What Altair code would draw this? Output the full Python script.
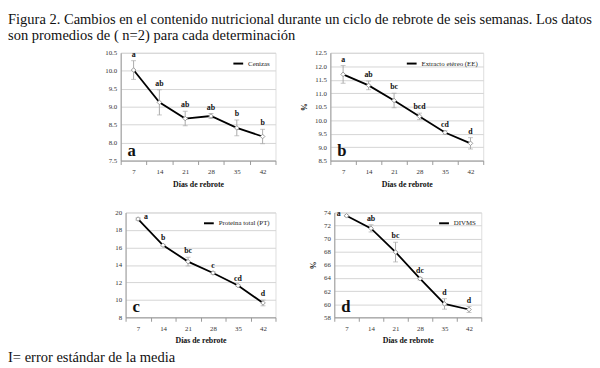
import altair as alt
import pandas as pd

SERIF = "Liberation Serif"

dias = [7, 14, 21, 28, 35, 42]

# Panel a: Cenizas
ceniza_val = [10.02, 9.12, 8.67, 8.74, 8.41, 8.17]
ceniza_se = [0.26, 0.35, 0.2, 0.07, 0.22, 0.2]
ceniza_let = ["a", "ab", "ab", "ab", "b", "b"]

# Panel b: Extracto etéreo
ee_val = [11.7, 11.29, 10.73, 10.14, 9.54, 9.14]
ee_se = [0.33, 0.16, 0.27, 0.12, 0.07, 0.21]
ee_let = ["a", "ab", "bc", "bcd", "cd", "d"]

# Panel c: Proteína total
pt_val = [19.25, 16.25, 14.38, 13.08, 11.64, 9.65]
pt_se = [0.15, 0.1, 0.5, 0.15, 0.1, 0.33]
pt_let = ["a", "b", "bc", "c", "cd", "d"]

# Panel d: DIVMS
dv_val = [73.5, 71.58, 67.96, 63.9, 60.05, 59.2]
dv_se = [0.1, 0.55, 1.5, 0.2, 0.8, 0.45]
dv_let = ["a", "ab", "bc", "dc", "d", "d"]


def panel(vals, se, letras, serie, ydom, yvals, yfmt, w, h, ytitle,
          plabel, first_dx=0, first_mid=False):
    df = pd.DataFrame({
        "dia": dias, "val": vals,
        "lo": [v - s for v, s in zip(vals, se)],
        "hi": [v + s for v, s in zip(vals, se)],
        "letra": letras, "serie": [serie] * len(dias),
    })
    xaxis = alt.Axis(title="Días de rebrote", labelAngle=0, tickBand="extent",
                     labelFont=SERIF, labelFontSize=7, labelColor="#333",
                     titleFont=SERIF, titleFontSize=8, titleFontWeight="bold",
                     titleColor="#111", domainColor="#999", tickColor="#999",
                     tickSize=4, grid=False, labelPadding=3, titlePadding=6)
    yaxis = alt.Axis(values=yvals, format=yfmt, labelFont=SERIF, labelFontSize=7,
                     labelColor="#333", titleFont=SERIF, titleFontSize=8,
                     titleFontWeight="bold", titleColor="#111", domainColor="#999",
                     tickSize=0, gridColor="#d4d4d4", labelPadding=4,
                     titlePadding=6, titleAngle=270)

    def X():
        return alt.X("dia:O", bandPosition=0.5, sort=None, axis=xaxis,
                     scale=alt.Scale(type="band", paddingInner=0, paddingOuter=0))

    def Y(f):
        return alt.Y(f, title=ytitle, axis=yaxis,
                     scale=alt.Scale(domain=ydom, nice=False, zero=False))

    base = alt.Chart(df)
    rule = base.mark_rule(color="#aaaaaa", strokeWidth=1).encode(
        x=X(), y=Y("lo:Q"), y2="hi:Q")
    cap_lo = base.mark_tick(color="#aaaaaa", thickness=1, size=5).encode(x=X(), y=Y("lo:Q"))
    cap_hi = base.mark_tick(color="#aaaaaa", thickness=1, size=5).encode(x=X(), y=Y("hi:Q"))
    line = base.mark_line(color="black", strokeWidth=1.8).encode(
        x=X(), y=Y("val:Q"),
        color=alt.Color("serie:N", scale=alt.Scale(range=["#000000"]),
                        legend=alt.Legend(orient="top-right", title=None,
                                          symbolType="stroke", symbolStrokeWidth=2,
                                          symbolSize=100, labelFont=SERIF,
                                          labelFontSize=7, labelColor="#222",
                                          offset=5, padding=0)))
    pts = base.mark_point(shape="diamond", filled=True, fill="white", stroke="#999999",
                          strokeWidth=1, size=22, opacity=1).encode(x=X(), y=Y("val:Q"))
    rest = base.transform_filter(alt.datum.dia > 7) if first_mid else base
    txt = rest.mark_text(font=SERIF, fontWeight="bold", fontSize=8, baseline="bottom",
                         dy=-2, color="#111").encode(x=X(), y=Y("hi:Q"), text="letra:N")
    layers = [rule, cap_lo, cap_hi, line, pts, txt]
    if first_mid:
        first = base.transform_filter(alt.datum.dia == 7).mark_text(
            font=SERIF, fontWeight="bold", fontSize=8, baseline="middle",
            dx=first_dx, dy=-2, color="#111").encode(x=X(), y=Y("val:Q"), text="letra:N")
        layers.append(first)
    lab = alt.Chart(pd.DataFrame({"t": [plabel]})).mark_text(
        font=SERIF, fontWeight="bold", fontSize=17, align="left", baseline="alphabetic",
        color="#111").encode(x=alt.value(7), y=alt.value(h - 5), text="t:N")
    layers.append(lab)
    return alt.layer(*layers).properties(width=w, height=h)


def spacer(w, h):
    return alt.Chart(pd.DataFrame({"s": [0]})).mark_point(opacity=0, size=1).encode(
        x=alt.value(w / 2), y=alt.value(h / 2)).properties(
        width=w, height=h, view=alt.ViewConfig(stroke=None))


pa = panel(ceniza_val, ceniza_se, ceniza_let, "Cenizas", [7.5, 10.5],
           [7.5, 8.0, 8.5, 9.0, 9.5, 10.0, 10.5], ".1f", 158, 110, None, "a")
pb = panel(ee_val, ee_se, ee_let, "Extracto etéreo (EE)", [8.5, 12.5],
           [8.5, 9.0, 9.5, 10.0, 10.5, 11.0, 11.5, 12.0, 12.5], ".1f", 156, 110, "%", "b")
pc = panel(pt_val, pt_se, pt_let, "Proteína total (PT)", [8, 20],
           [8, 10, 12, 14, 16, 18, 20], "d", 153, 107, None, "c",
           first_dx=8, first_mid=True)
pd_ = panel(dv_val, dv_se, dv_let, "DIVMS", [58, 74],
            [58, 60, 62, 64, 66, 68, 70, 72, 74], "d", 150, 107, "%", "d",
            first_dx=-8, first_mid=True)

row1 = alt.hconcat(spacer(74, 10), pa, pb, spacing=24).resolve_scale(
    color="independent", y="independent")
row2 = alt.hconcat(spacer(75, 10), pc, pd_, spacing=33,
                   title=alt.Title("I= error estándar de la media", orient="bottom",
                                   anchor="start", font=SERIF, fontSize=14.8,
                                   fontWeight="normal", color="#111", offset=5)
                   ).resolve_scale(color="independent", y="independent")

chart = alt.vconcat(
    row1, row2, spacing=19,
    title=alt.Title(["Figura 2. Cambios en el contenido nutricional durante un ciclo de rebrote de seis semanas. Los datos",
                     "son promedios de ( n=2) para cada determinación"],
                    anchor="start", font=SERIF, fontSize=14.8, fontWeight="normal",
                    color="#111", offset=6, lineHeight=16),
).resolve_scale(color="independent", y="independent").properties(
    padding={"left": 0, "top": 0, "right": 0, "bottom": 0}
).configure_view(stroke="#cccccc").configure(background="white")

chart.save("out.html", embed_options={"renderer": "svg", "actions": False})
